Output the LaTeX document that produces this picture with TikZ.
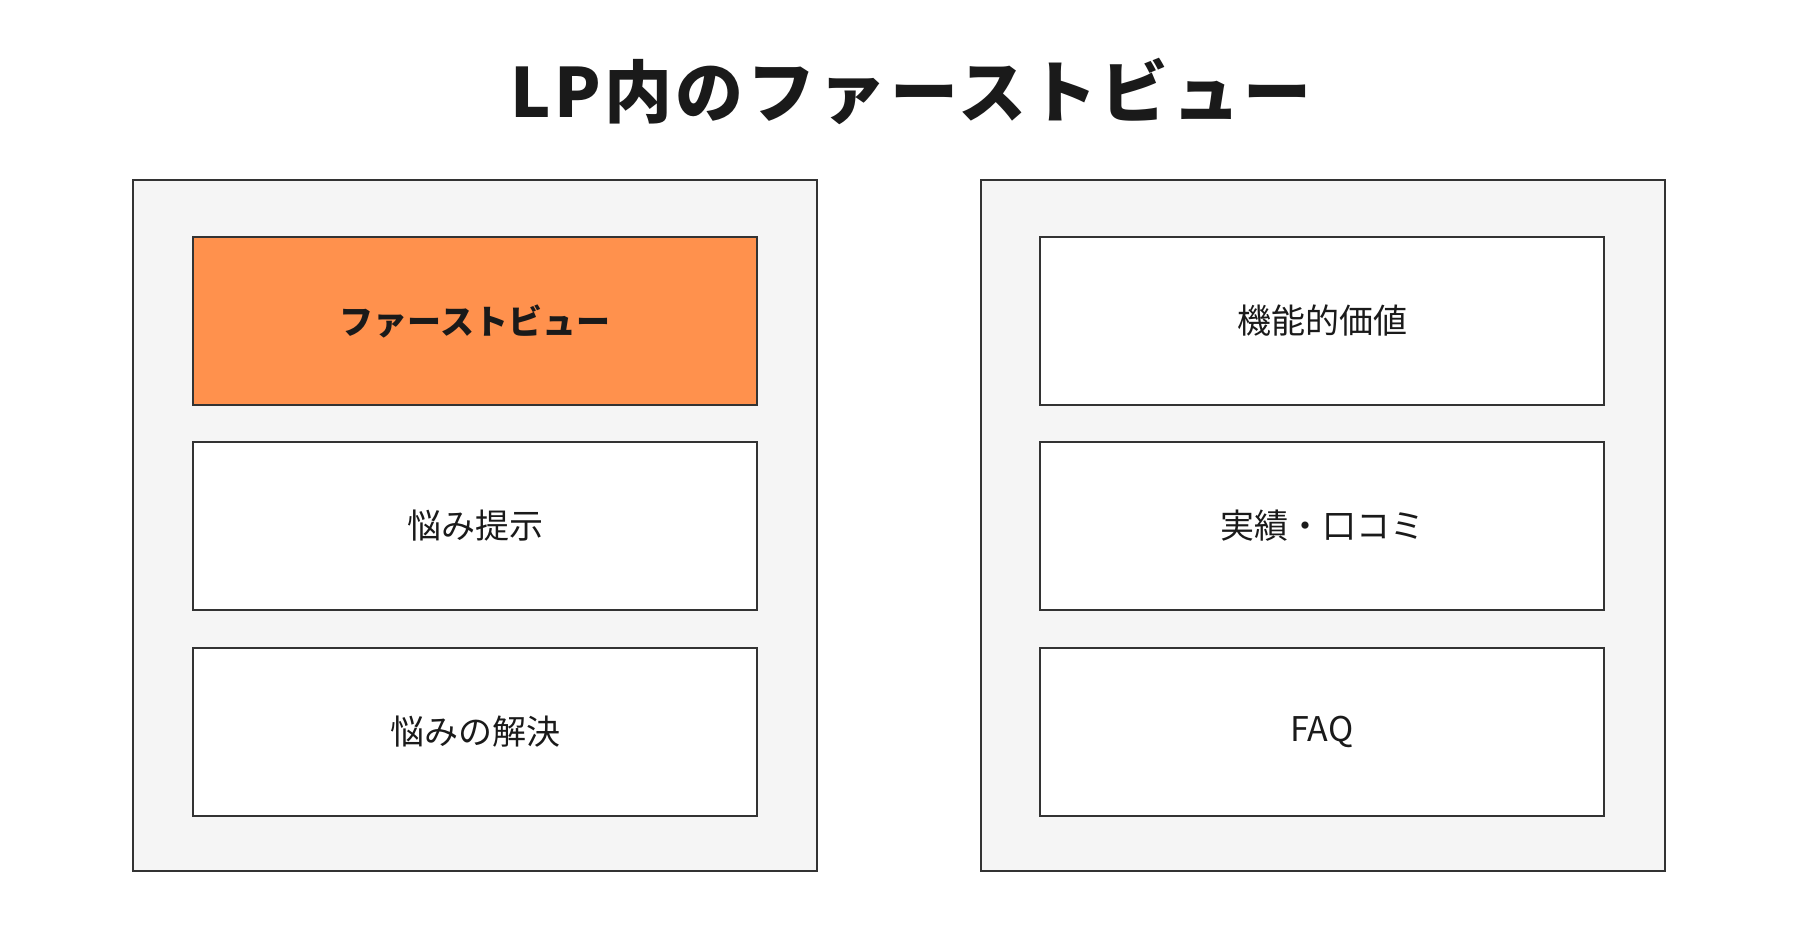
\documentclass[tikz,border=0pt]{standalone}
\usepackage{fontspec}
\setmainfont{Noto Sans CJK JP}
\usepackage{xcolor}
\definecolor{panelgray}{HTML}{F5F5F5}
\definecolor{edgegray}{HTML}{333333}
\definecolor{inkblack}{HTML}{1A1A1A}
\definecolor{fvorange}{HTML}{FF914D}

\begin{document}
\begin{tikzpicture}[x=1pt,y=-1pt,
    panel/.style={draw=edgegray,fill=panelgray,line width=2,minimum width=684,minimum height=691,inner sep=0},
    item/.style={draw=edgegray,fill=white,line width=2,minimum width=564,minimum height=168,inner sep=0,
      text=inkblack,font=\fontsize{34}{40}\selectfont},
    hot/.style={item,fill=fvorange,font=\fontsize{34}{40}\selectfont\bfseries}]

    \useasboundingbox[fill=white] (0,0) rectangle (1816,942);

    \node[text=inkblack,font=\fontsize{68}{80}\selectfont\bfseries\addfontfeature{LetterSpace=5}] (title) at (911,91) {LP内のファーストビュー};

    \node[panel] (left) at (475,525.5) {};
    \node[panel] (right) at (1322.5,525.5) {};

    \node[hot] (fv) at (475,321) {ファーストビュー};
    \node[item] (pain) at (475,526) {悩み提示};
    \node[item] (solve) at (475,731.5) {悩みの解決};

    \node[item] (value) at (1322,321) {機能的価値};
    \node[item] (proof) at (1322,526) {実績・口コミ};
    \node[item] (faq) at (1322,731.5) {FAQ};

\end{tikzpicture}
\end{document}
